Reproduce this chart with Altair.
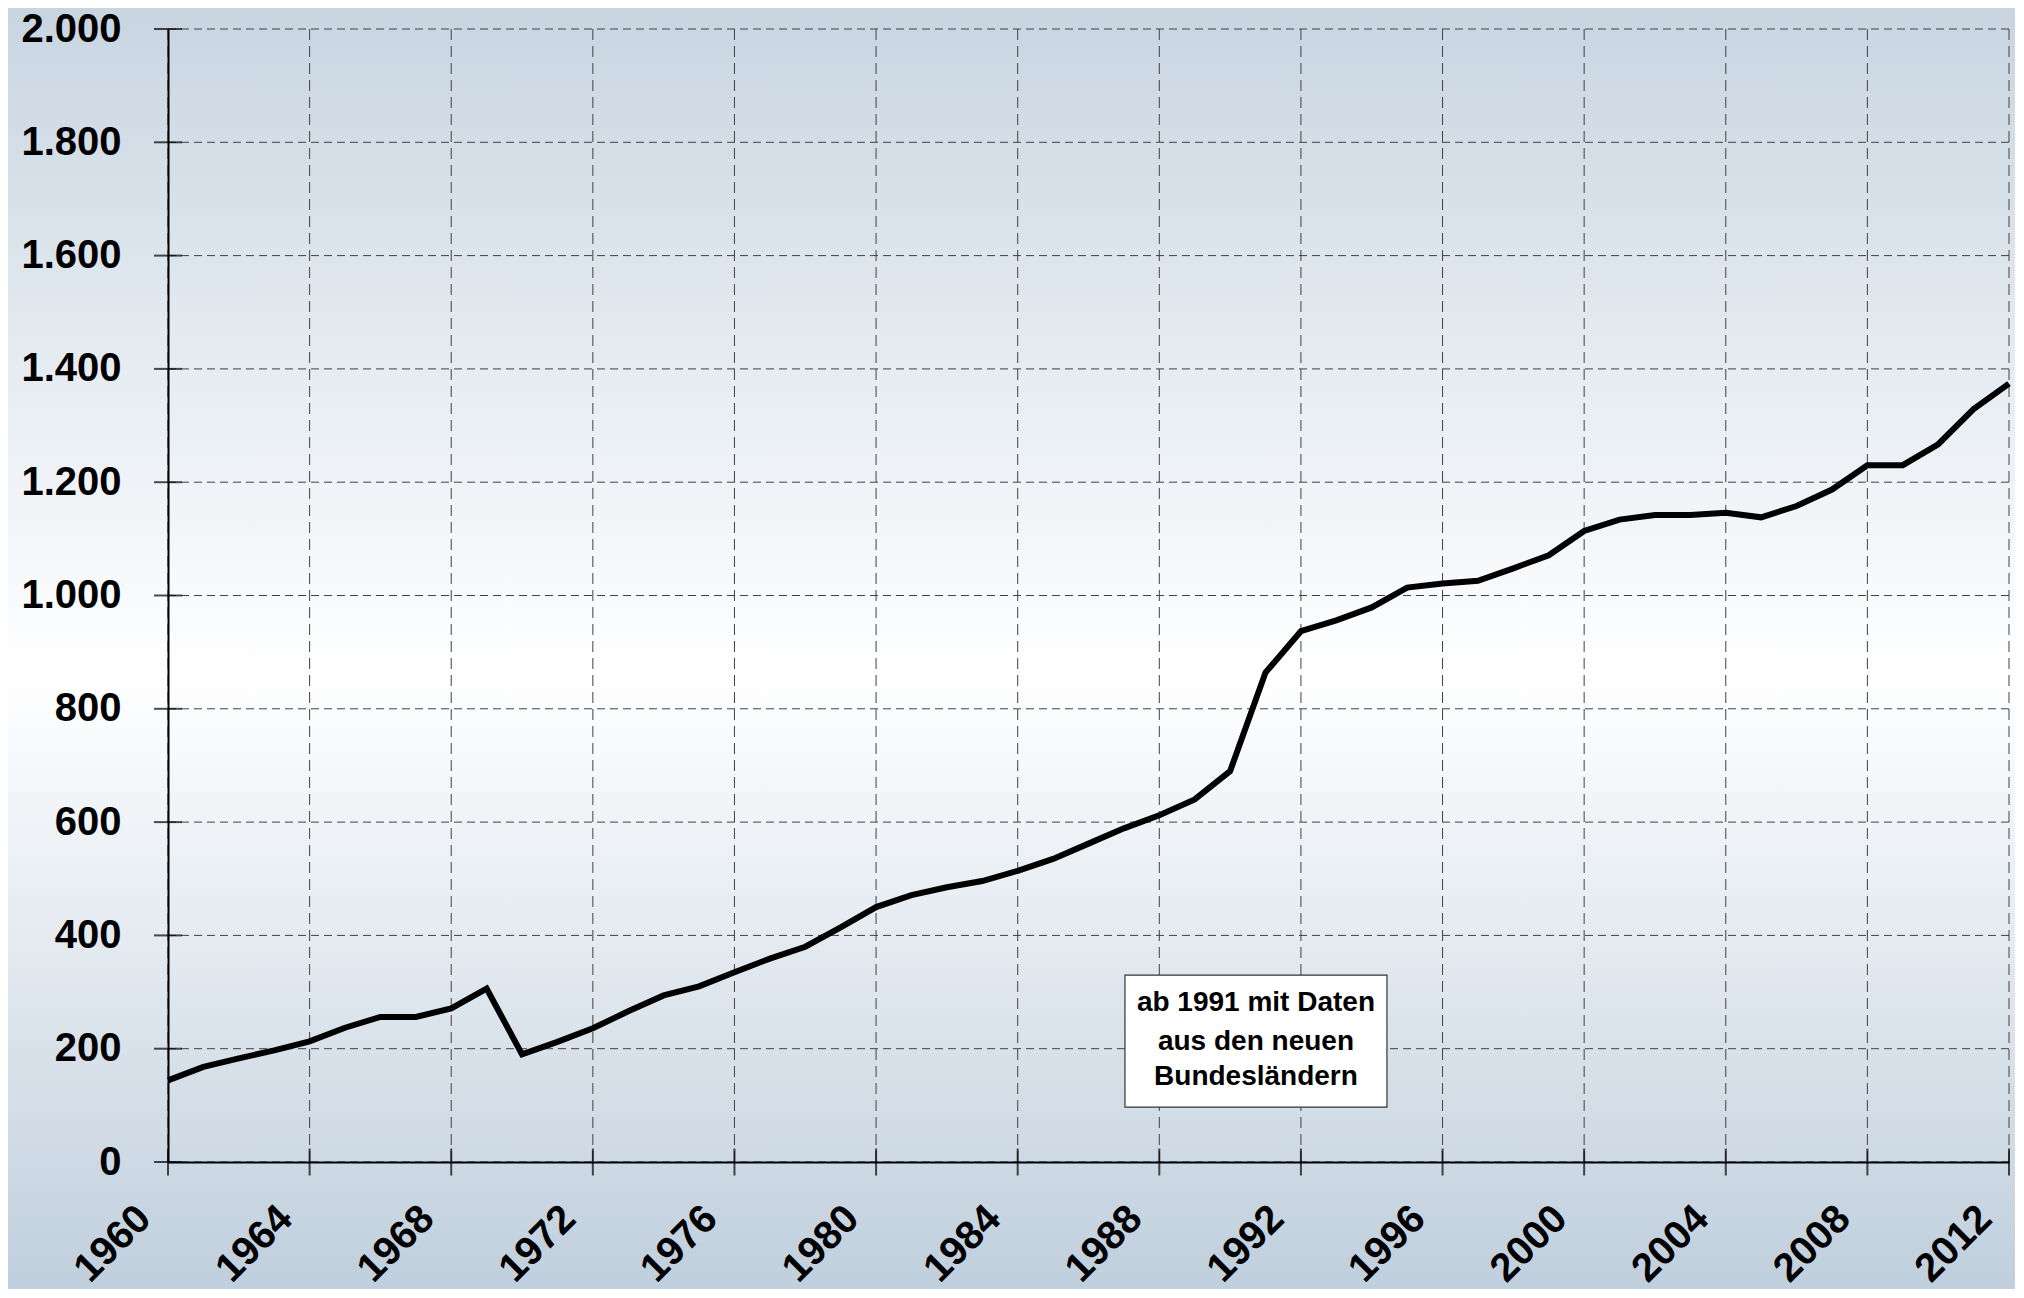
import altair as alt
import pandas as pd

# ---- data ----
years = list(range(1960, 2013))
values = [144, 168, 183, 197, 213, 237, 256, 256, 271, 306,
          190, 212, 236, 266, 294, 310, 335, 359, 380, 414,
          450, 471, 485, 496, 514, 535, 562, 589, 612, 640,
          690, 864, 937, 956, 979, 1014, 1021, 1026, 1048, 1071,
          1114, 1134, 1142, 1142, 1146, 1138, 1158, 1187, 1230, 1230,
          1267, 1329, 1374]
y_ticks = list(range(0, 2001, 200))
x_ticks = list(range(1960, 2013, 4))

note_lines = ["ab 1991 mit Daten", "aus den neuen", "Bundesländern"]
note_line_y = [280, 211, 150]
note_x = 1990.73
note_box_x = [1987.03, 1994.43]
note_box_y = [97, 330]

W, H = 1841, 1133
PAD = {"left": 160, "top": 21, "right": 6, "bottom": 127}
FONT = "Liberation Sans"

df = pd.DataFrame({"year": years, "value": values})
xs = alt.Scale(domain=[1960, 2012], nice=False, zero=False)
ys = alt.Scale(domain=[0, 2000], nice=False)

X_AXIS = alt.Axis(values=x_ticks, format="d", title=None, grid=False,
                  ticks=False, tickSize=0, domainColor="black", domainWidth=2,
                  labelFont=FONT, labelFontSize=40, labelFontWeight="bold",
                  labelColor="black", labelAngle=-45, labelAlign="right",
                  labelBaseline="middle", labelPadding=50, labelOffset=-24,
                  labelOverlap=False, zindex=2)
Y_AXIS = alt.Axis(values=y_ticks, title=None, grid=False,
                  ticks=False, tickSize=0, domainColor="black", domainWidth=2,
                  labelFont=FONT, labelFontSize=40, labelFontWeight="bold",
                  labelColor="black", labelPadding=47, zindex=2,
                  labelExpr="replace(format(datum.value, ','), ',', '.')")

bg = alt.Chart(pd.DataFrame({"a": [0]})).mark_rect(
    fill=alt.Gradient(
        gradient="linear", x1=0, y1=0, x2=0, y2=1,
        stops=[alt.GradientStop(color="#c8d5e1", offset=0),
               alt.GradientStop(color="#ffffff", offset=0.52),
               alt.GradientStop(color="#c0cfdd", offset=1)]),
    stroke=None,
).encode(
    x=alt.value(-PAD["left"]), x2=alt.value(W + PAD["right"]),
    y=alt.value(-PAD["top"]), y2=alt.value(H + PAD["bottom"]),
)

line = alt.Chart(df).mark_line(color="black", strokeWidth=6, strokeJoin="miter").encode(
    x=alt.X("year:Q", scale=xs, axis=X_AXIS),
    y=alt.Y("value:Q", scale=ys, axis=Y_AXIS),
)

# grid layers (dashed)
vgrid = alt.Chart(pd.DataFrame({"t": x_ticks})).mark_rule(
    color="#404040", strokeWidth=1, strokeDash=[11, 6]
).encode(x=alt.X("t:Q", scale=xs, axis=X_AXIS), y=alt.value(0), y2=alt.value(H))
hgrid = alt.Chart(pd.DataFrame({"t": y_ticks})).mark_rule(
    color="#404040", strokeWidth=1, strokeDash=[8, 5]
).encode(y=alt.Y("t:Q", scale=ys, axis=Y_AXIS), x=alt.value(0), x2=alt.value(W))

ytick = alt.Chart(pd.DataFrame({"t": y_ticks})).mark_tick(
    color="black", size=28, thickness=2
).encode(y=alt.Y("t:Q", scale=ys, axis=Y_AXIS), x=alt.value(0))
xtick = alt.Chart(pd.DataFrame({"t": x_ticks})).mark_tick(
    color="black", size=27, thickness=2
).encode(x=alt.X("t:Q", scale=xs, axis=X_AXIS), y=alt.value(H))

box = alt.Chart(pd.DataFrame({"x": [note_box_x[0]], "x2": [note_box_x[1]],
                              "y": [note_box_y[0]], "y2": [note_box_y[1]]})).mark_rect(
    fill="white", stroke="#333333", strokeWidth=1.2
).encode(x=alt.X("x:Q", scale=xs, axis=X_AXIS), x2="x2:Q",
         y=alt.Y("y:Q", scale=ys, axis=Y_AXIS), y2="y2:Q")

note = alt.Chart(pd.DataFrame({"txt": note_lines, "y": note_line_y,
                               "x": [note_x] * 3})).mark_text(
    font=FONT, fontSize=28, fontWeight="bold", color="black",
    align="center", baseline="middle"
).encode(x=alt.X("x:Q", scale=xs, axis=X_AXIS), y=alt.Y("y:Q", scale=ys, axis=Y_AXIS),
         text="txt:N")

chart = alt.layer(bg, vgrid, hgrid, box, note, line, ytick, xtick).properties(
    width=W, height=H, padding=PAD, autosize=alt.AutoSizeParams(type="none"),
).configure_view(stroke=None).configure(background="#dde5ed")

chart.save("out.html", embed_options={"renderer": "svg", "actions": False})
